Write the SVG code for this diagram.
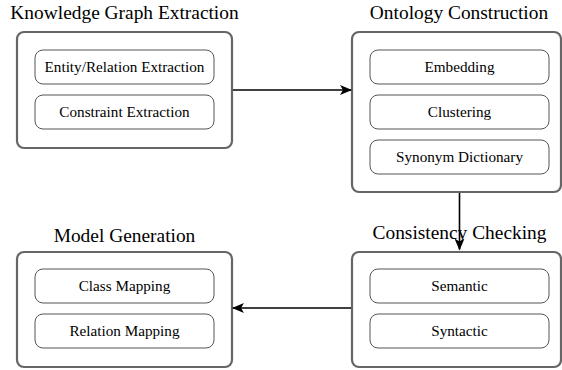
<svg xmlns="http://www.w3.org/2000/svg" width="562" height="370" viewBox="0 0 562 370">
<style>
.outer{fill:#fff;stroke:#666;stroke-width:2.2}
.inner{fill:#fff;stroke:#555;stroke-width:1}
.title{font-family:"Liberation Serif","Times New Roman",serif;font-size:19.4px;fill:#000;text-anchor:middle}
.lbl{font-family:"Liberation Serif","Times New Roman",serif;font-size:15.2px;fill:#000;text-anchor:middle}
.edge{stroke:#000;stroke-width:1.6;fill:none}
</style>
<defs>
<marker id="ah" viewBox="0 0 12 10" refX="11" refY="5" markerWidth="12" markerHeight="10" markerUnits="userSpaceOnUse" orient="auto">
<path d="M0,0 L12,5 L0,10 L3,5 Z" fill="#000"/>
</marker>
</defs>
<rect width="562" height="370" fill="#fff"/>
<g id="kg">
<text class="title" x="124.5" y="19">Knowledge Graph Extraction</text>
<rect class="outer" x="17" y="32" width="215" height="116" rx="7"/>
<rect class="inner" x="35" y="50" width="179" height="34" rx="8"/>
<text class="lbl" x="124.5" y="71.5">Entity/Relation Extraction</text>
<rect class="inner" x="35" y="95" width="179" height="34" rx="8"/>
<text class="lbl" x="124.5" y="116.5">Constraint Extraction</text>
</g>
<g id="onto">
<text class="title" x="459" y="19">Ontology Construction</text>
<rect class="outer" x="352" y="32" width="209" height="160" rx="7"/>
<rect class="inner" x="370" y="50" width="179" height="34" rx="8"/>
<text class="lbl" x="459.5" y="71.5">Embedding</text>
<rect class="inner" x="370" y="95" width="179" height="34" rx="8"/>
<text class="lbl" x="459.5" y="116.5">Clustering</text>
<rect class="inner" x="370" y="140" width="179" height="34" rx="8"/>
<text class="lbl" x="459.5" y="161.5">Synonym Dictionary</text>
</g>
<g id="cons">
<rect class="outer" x="352" y="252" width="209" height="115" rx="7"/>
<rect class="inner" x="370" y="269" width="179" height="34" rx="8"/>
<text class="lbl" x="459.5" y="291">Semantic</text>
<rect class="inner" x="370" y="314" width="179" height="34" rx="8"/>
<text class="lbl" x="459.5" y="335.5">Syntactic</text>
</g>
<g id="model">
<text class="title" x="124.5" y="241.5">Model Generation</text>
<rect class="outer" x="17" y="252" width="215" height="115" rx="7"/>
<rect class="inner" x="35" y="269" width="179" height="34" rx="8"/>
<text class="lbl" x="124.5" y="291">Class Mapping</text>
<rect class="inner" x="35" y="314" width="179" height="34" rx="8"/>
<text class="lbl" x="124.5" y="335.5">Relation Mapping</text>
</g>
<g id="connectors">
<line class="edge" x1="233" y1="90" x2="351" y2="90" marker-end="url(#ah)"/>
<line class="edge" x1="459.5" y1="193" x2="459.5" y2="249.5" marker-end="url(#ah)"/>
<line class="edge" x1="351" y1="308" x2="233" y2="308" marker-end="url(#ah)"/>
</g>
<text class="title" x="459.5" y="239.3">Consistency Checking</text>
</svg>
